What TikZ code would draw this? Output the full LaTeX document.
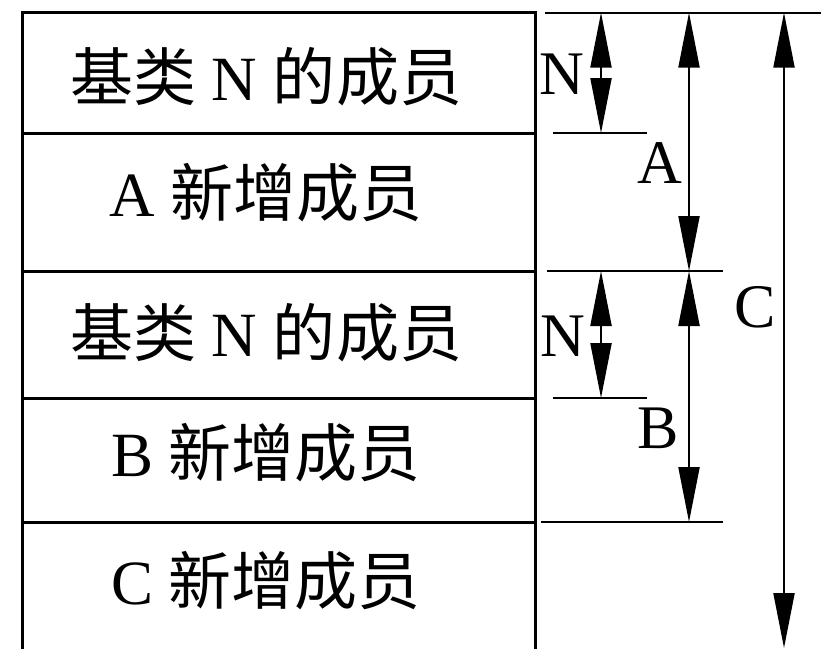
\documentclass[tikz,border=0pt]{standalone}
\usepackage{fontspec}
\setmainfont{Liberation Serif}
\newfontfamily\cjk{Noto Sans CJK SC}
\usetikzlibrary{arrows.meta}
\tikzset{
  boxline/.style={line width=3pt, line join=miter},
  extline/.style={line width=2.1pt},
  dimline/.style={line width=2.1pt, {Triangle[length=55pt,width=21pt]}-{Triangle[length=55pt,width=21pt]}},
  celltext/.style={anchor=base, inner sep=0pt, font=\fontsize{63}{70}\selectfont},
  dimlabel/.style={anchor=base, inner sep=0pt, font=\fontsize{62}{70}\selectfont}
}
\begin{document}
\begin{tikzpicture}[x=1pt,y=-1pt]
\useasboundingbox (0,0) rectangle (821,649);
% box
\coordinate (bl) at (22,649);
\coordinate (tl) at (22,12);
\coordinate (tr) at (535,12);
\coordinate (br) at (535,649);
\draw[boxline] (bl) -- (tl) -- (tr) -- (br);
\foreach \yy/\nm in {133/r1, 271/r2, 398/r3, 522/r4} {
  \coordinate (\nm l) at (22,\yy);
  \coordinate (\nm r) at (535,\yy);
  \draw[boxline] (\nm l) -- (\nm r);
}
% cell texts
\node[celltext] (t1) at (266,100) {{\cjk 基类} N {\cjk 的成员}};
\node[celltext] (t2) at (266,216) {A {\cjk 新增成员}};
\node[celltext] (t3) at (266,356) {{\cjk 基类} N {\cjk 的成员}};
\node[celltext] (t4) at (266,476) {B {\cjk 新增成员}};
\node[celltext] (t5) at (266,604) {C {\cjk 新增成员}};
% extension lines
\coordinate (e0a) at (545,12.7); \coordinate (e0b) at (821,12.7);
\coordinate (e1a) at (553,133);  \coordinate (e1b) at (647,133);
\coordinate (e2a) at (547,271);  \coordinate (e2b) at (723,271);
\coordinate (e3a) at (553,398);  \coordinate (e3b) at (647,398);
\coordinate (e4a) at (541,522);  \coordinate (e4b) at (723,522);
\foreach \e in {e0,e1,e2,e3,e4} \draw[extline] (\e a) -- (\e b);
% dimension arrow ends
\coordinate (n1t) at (601,12.7); \coordinate (n1b) at (601,133);
\coordinate (at)  at (689,12.7); \coordinate (ab)  at (689,271);
\coordinate (ct)  at (784,12.7); \coordinate (cb)  at (784,648);
\coordinate (n2t) at (601,271);  \coordinate (n2b) at (601,398);
\coordinate (bt)  at (689,271);  \coordinate (bb)  at (689,522);
\draw[dimline] (n1t) -- (n1b);
\draw[dimline] (at) -- (ab);
\draw[dimline] (ct) -- (cb);
\draw[dimline] (n2t) -- (n2b);
\draw[dimline] (bt) -- (bb);
% labels
\node[dimlabel] (ln1) at (562,94) {N};
\node[dimlabel] (la) at (660,183) {A};
\node[dimlabel] (lc) at (755,327) {C};
\node[dimlabel] (ln2) at (563,356) {N};
\node[dimlabel] (lb) at (658,448) {B};
\end{tikzpicture}
\end{document}
